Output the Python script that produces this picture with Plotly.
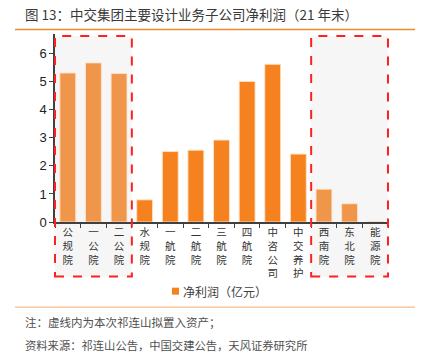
import plotly.graph_objects as go

categories = ["公规院", "一公院", "二公院", "水规院", "一航院", "二航院", "三航院",
              "四航院", "中咨公司", "中交养护", "西南院", "东北院", "能源院"]
net_profit = [5.31, 5.67, 5.29, 0.79, 2.51, 2.56, 2.92, 5.01, 5.62, 2.42, 1.17, 0.65, 0.02]
in_scope = [True, True, True, False, False, False, False, False, False, False, True, True, True]
y_ticks = [0, 1, 2, 3, 4, 5, 6]

title_text = "图 13：中交集团主要设计业务子公司净利润（21 年末）"
note_text = "注：虚线内为本次祁连山拟置入资产；"
source_text = "资料来源：祁连山公告，中国交建公告，天风证券研究所"
series_name = "净利润（亿元）"

C_MAIN = "#F5821F"
C_LIGHT = "#EF964A"

W, H = 429, 356
L, R_px, T, B = 55, 388, 34.4, 222.0
PW, PH = R_px - L, B - T


def px_x(px):
    return (px - L) / PW


def px_y(py):
    return (B - py) / PH


labels = ["<br>".join(list(c)) for c in categories]
colors = [C_LIGHT if s else C_MAIN for s in in_scope]

fig = go.Figure()
fig.add_trace(go.Bar(
    x=labels, y=net_profit, name=series_name,
    marker=dict(color=colors, line=dict(color="rgba(255,225,200,0.9)", width=1)),
    width=0.62, showlegend=False,
))

n = len(categories)
shapes = []
groups = []
start = None
for i, s in enumerate(in_scope):
    if s and start is None:
        start = i
    if (not s or i == n - 1) and start is not None:
        end = i if s else i - 1
        groups.append((start, end))
        start = None
ymax = 6.7
for (a, b) in groups:
    x0 = a / n
    x1 = (b + 1) / n
    y0 = (B - 276.5) / PH
    y1 = (B - 36.5) / PH
    shapes.append(dict(type="rect", xref="x domain", yref="y domain", x0=x0, x1=x1,
                       y0=y0, y1=y1, fillcolor="#F6F6F6", line=dict(width=0), layer="below"))
    shapes.append(dict(type="rect", xref="x domain", yref="y domain", x0=x0, x1=x1,
                       y0=y0, y1=y1, fillcolor="rgba(0,0,0,0)",
                       line=dict(color="#FF2020", width=2, dash="dash"), layer="above"))

shapes.append(dict(type="line", xref="paper", yref="paper", x0=px_x(15), x1=px_x(415),
                   y0=px_y(30), y1=px_y(30), line=dict(color="#F08A2C", width=1.5)))
shapes.append(dict(type="line", xref="paper", yref="paper", x0=px_x(15), x1=px_x(415),
                   y0=px_y(307), y1=px_y(307), line=dict(color="#F8C6A0", width=1.5)))
# legend swatch
shapes.append(dict(type="rect", xref="paper", yref="paper", x0=px_x(172), x1=px_x(179),
                   y0=px_y(294.5), y1=px_y(287.5), fillcolor=C_MAIN, line=dict(width=0)))

annotations = [
    dict(text=title_text, xref="paper", yref="paper", x=px_x(23), y=px_y(14),
         xanchor="left", yanchor="middle", showarrow=False,
         font=dict(size=13.5, color="#3a3a3a", family="Noto Sans CJK SC")),
    dict(text=series_name, xref="paper", yref="paper", x=px_x(181), y=px_y(291),
         xanchor="left", yanchor="middle", showarrow=False,
         font=dict(size=12, color="#404040", family="Noto Sans CJK SC")),
    dict(text=note_text, xref="paper", yref="paper", x=px_x(23), y=px_y(322),
         xanchor="left", yanchor="middle", showarrow=False,
         font=dict(size=11.5, color="#505050", family="Noto Sans CJK SC")),
    dict(text=source_text, xref="paper", yref="paper", x=px_x(23), y=px_y(345),
         xanchor="left", yanchor="middle", showarrow=False,
         font=dict(size=11.3, color="#505050", family="Noto Sans CJK SC")),
]

fig.update_layout(
    width=W, height=H,
    margin=dict(l=L, r=W - R_px, t=T, b=H - B, pad=0),
    paper_bgcolor="white", plot_bgcolor="rgba(0,0,0,0)",
    shapes=shapes, annotations=annotations,
    showlegend=False,
    font=dict(family="Noto Sans CJK SC"),
)
fig.update_xaxes(
    type="category", range=[-0.5, n - 0.5],
    showline=True, linecolor="#404040", linewidth=1.5,
    ticks="outside", tickson="boundaries", ticklen=4, tickcolor="#404040",
    tickangle=0, tickfont=dict(size=10.5, color="#333333", family="Noto Sans CJK SC"),
    showgrid=False,
)
fig.update_yaxes(
    range=[0, ymax], tickvals=y_ticks,
    showline=True, linecolor="#404040", linewidth=1.5,
    ticks="outside", ticklen=4, tickcolor="#404040",
    tickfont=dict(size=13, color="#222222", family="Liberation Sans"),
    showgrid=False, zeroline=False,
)

fig.write_html("out.html", config={"displayModeBar": False},
               post_script="document.body.style.margin='0';document.body.style.padding='0';")
